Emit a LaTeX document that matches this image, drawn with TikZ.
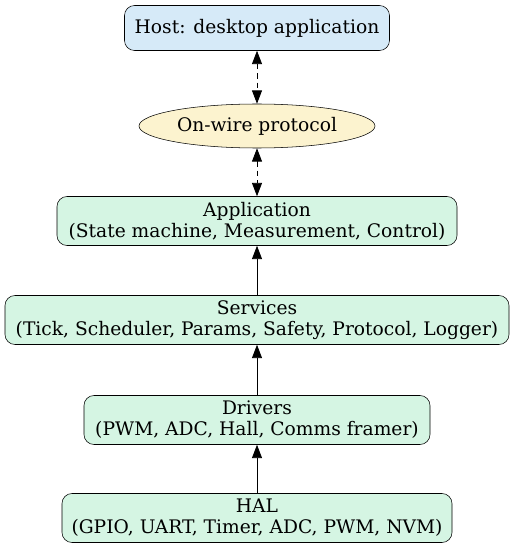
\documentclass[tikz,border=0pt]{standalone}
\usepackage{fontspec}
\setmainfont{DejaVu Serif}
\usetikzlibrary{arrows.meta, shapes.geometric}
\usepackage{xcolor}

\definecolor{hostblue}{HTML}{D6EAF8}
\definecolor{wireyellow}{HTML}{FCF3CF}
\definecolor{layergreen}{HTML}{D5F5E3}

\tikzset{
  layerbox/.style={draw, rounded corners=7.5pt, fill=layergreen, inner sep=0pt, minimum height=36.75pt},
  flow/.style={-{Triangle[length=10pt, width=7.5pt]}, semithick},
  wire/.style={{Triangle[length=10pt, width=7.5pt]}-{Triangle[length=10pt, width=7.5pt]}, dash pattern=on 4pt off 3pt, semithick}
}

\begin{document}
\begin{tikzpicture}[x=0.75pt, y=-0.75pt, every node/.style={font=\fontsize{14}{15.75}\selectfont, align=center}]
\useasboundingbox (0,0) rectangle (515,549);

% ---- host side ----
\node (host) at (257,28) [draw, rounded corners=7.5pt, fill=hostblue, inner sep=0pt, minimum width=198.75pt, minimum height=33.75pt] {Host: desktop application};
\node (wire) at (257,126) [draw, ellipse, fill=wireyellow, inner sep=0pt, minimum width=177pt, minimum height=33pt] {On-wire protocol};

% ---- firmware layers ----
\node (app) at (257,221) [layerbox, minimum width=300pt] {Application\\(State machine, Measurement, Control)};
\node (svc) at (257,320) [layerbox, minimum width=378pt] {Services\\(Tick, Scheduler, Params, Safety, Protocol, Logger)};
\node (drv) at (257,420) [layerbox, minimum width=259.5pt] {Drivers\\(PWM, ADC, Hall, Comms framer)};
\node (hal) at (257,518) [layerbox, minimum width=292.5pt] {HAL\\(GPIO, UART, Timer, ADC, PWM, NVM)};

\draw[wire] (host) -- (wire);
\draw[wire] (wire) -- (app);
\draw[flow] (svc) -- (app);
\draw[flow] (drv) -- (svc);
\draw[flow] (hal) -- (drv);
\end{tikzpicture}
\end{document}
